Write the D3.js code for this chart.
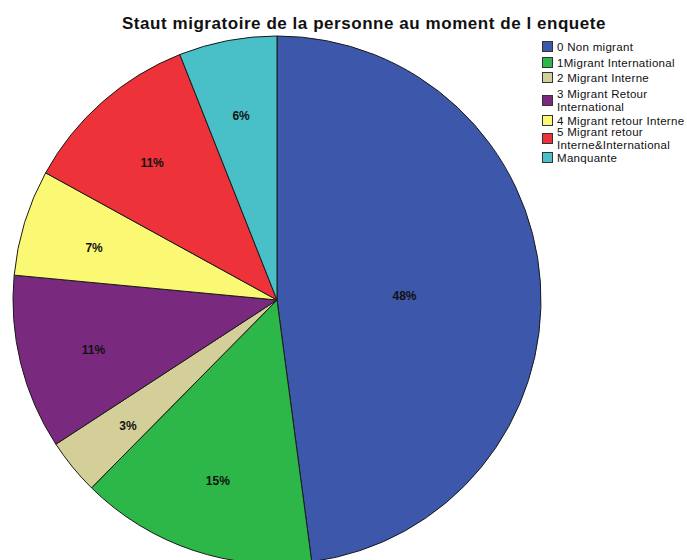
<!DOCTYPE html>
<html>
<head>
<meta charset="utf-8">
<script src="https://cdn.jsdelivr.net/npm/d3@7"></script>
<style>
  html, body { margin: 0; padding: 0; background: #ffffff; }
  svg { display: block; }
</style>
</head>
<body>
<script>
// ---- data ----
const categories = [
  "0 Non migrant",
  "1Migrant International",
  "2 Migrant Interne",
  "3 Migrant Retour International",
  "4 Migrant retour Interne",
  "5 Migrant retour Interne&International",
  "Manquante"
];
const legendLines = [
  ["0 Non migrant"],
  ["1Migrant International"],
  ["2 Migrant Interne"],
  ["3 Migrant Retour", "International"],
  ["4 Migrant retour Interne"],
  ["5 Migrant retour", "Interne&International"],
  ["Manquante"]
];
const values = [47.9, 14.5, 3.4, 10.7, 6.5, 11.0, 6.0];
const labels = ["48%", "15%", "3%", "11%", "7%", "11%", "6%"];
const colors = ["#3d57aa", "#2db749", "#d4cf98", "#7a2a7e", "#fbf874", "#ee3239", "#49c0c8"];
const title = "Staut migratoire de la personne au moment de l enquete";

// ---- layout ----
const W = 687, H = 560;
const cx = 277, cy = 300, R = 264;

const svg = d3.select("body").append("svg").attr("width", W).attr("height", H);

svg.append("text")
  .attr("x", 364).attr("y", 29)
  .attr("text-anchor", "middle")
  .attr("font-family", "Liberation Sans, Arial, sans-serif")
  .attr("font-weight", "bold")
  .attr("font-size", 17)
  .attr("letter-spacing", 0.55)
  .attr("fill", "#111")
  .text(title);

const data = values.map((v, i) => ({ v, i }));
const pie = d3.pie().value(d => d.v).sort(null);
const arcs = pie(data);
const arc = d3.arc().innerRadius(0).outerRadius(R);

const g = svg.append("g").attr("transform", `translate(${cx},${cy})`);
g.selectAll("path").data(arcs).join("path")
  .attr("d", arc)
  .attr("fill", d => colors[d.data.i])
  .attr("stroke", "#1a1a1a")
  .attr("stroke-width", 1)
  .attr("stroke-linejoin", "round");

g.selectAll("text.lbl").data(arcs).join("text")
  .attr("class", "lbl")
  .attr("transform", d => {
    const a = (d.startAngle + d.endAngle) / 2;
    const h = (d.endAngle - d.startAngle) / 2;
    const dist = 0.73 * R * Math.sin(h) / h;
    return `translate(${dist * Math.sin(a)},${-dist * Math.cos(a) + 4})`;
  })
  .attr("text-anchor", "middle")
  .attr("dy", "0.35em")
  .attr("font-family", "Liberation Sans, Arial, sans-serif")
  .attr("font-weight", "bold")
  .attr("font-size", 12)
  .attr("fill", "#111")
  .text(d => labels[d.data.i]);

// ---- legend ----
const swatchTops = [41, 57, 72, 95, 115, 133, 152];
const lg = svg.append("g");
legendLines.forEach((lines, i) => {
  const t = swatchTops[i];
  lg.append("rect")
    .attr("x", 542.5).attr("y", t + 0.5)
    .attr("width", 10).attr("height", 10)
    .attr("fill", colors[i])
    .attr("stroke", "#333").attr("stroke-width", 1);
  const txt = lg.append("text")
    .attr("font-family", "Liberation Sans, Arial, sans-serif")
    .attr("font-size", 11.5)
    .attr("letter-spacing", 0.3)
    .attr("fill", "#111");
  if (lines.length === 1) {
    txt.append("tspan").attr("x", 557).attr("y", t + 10).text(lines[0]);
  } else {
    txt.append("tspan").attr("x", 557).attr("y", t + 3).text(lines[0]);
    txt.append("tspan").attr("x", 557).attr("y", t + 16).text(lines[1]);
  }
});
</script>
</body>
</html>
